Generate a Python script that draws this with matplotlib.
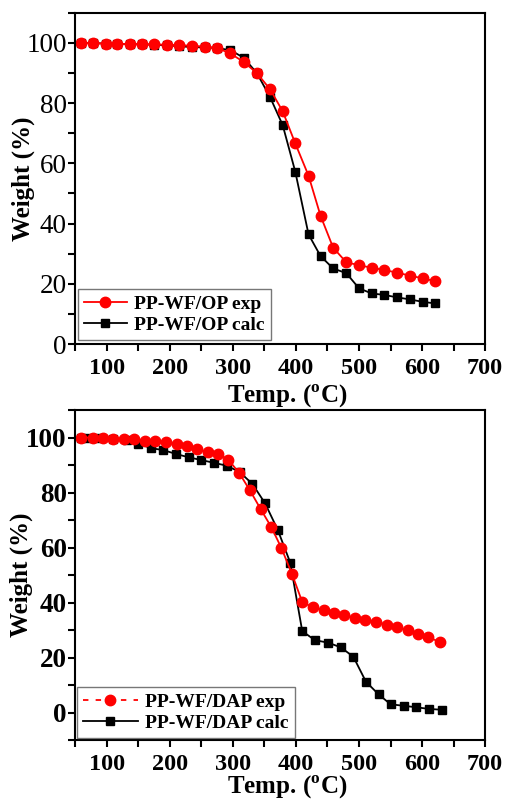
import numpy as np
import matplotlib
matplotlib.use("Agg")
import matplotlib.pyplot as plt
from matplotlib.lines import Line2D
from matplotlib.ticker import MultipleLocator

plt.rcParams['font.family'] = ['Liberation Serif', 'DejaVu Serif']
plt.rcParams['mathtext.fontset'] = 'custom'
plt.rcParams['mathtext.rm'] = 'Liberation Serif'
plt.rcParams['mathtext.bf'] = 'Liberation Serif:bold'

# PP-WF/OP
op_exp_T = [59, 79, 99, 117, 137, 156, 175, 195, 215, 236, 256, 275, 296, 317, 338, 359, 379, 399,
            420, 439, 459, 480, 500, 520, 540, 560, 581, 601, 620]
op_exp_W = [100, 99.9, 99.8, 99.7, 99.6, 99.6, 99.5, 99.4, 99.3, 99.0, 98.8, 98.3, 96.5, 93.7, 90.0,
            84.6, 77.3, 66.6, 55.9, 42.6, 32.0, 27.1, 26.2, 25.3, 24.6, 23.7, 22.7, 21.8, 20.9]
op_calc_T = [59, 79, 99, 117, 137, 156, 175, 195, 215, 236, 256, 275, 296, 317, 338, 359, 379, 399,
             420, 439, 459, 480, 500, 520, 540, 560, 581, 601, 620]
op_calc_W = [100, 99.9, 99.8, 99.7, 99.6, 99.5, 99.4, 99.2, 98.9, 98.6, 98.5, 98.3, 97.6, 95.1, 90.0,
             82.0, 72.7, 57.2, 36.4, 29.2, 25.1, 23.5, 18.5, 16.8, 16.3, 15.5, 14.8, 14.0, 13.5]

# PP-WF/DAP
dap_exp_T = [59, 79, 94, 110, 128, 144, 160, 177, 194, 211, 227, 243, 260, 277, 293, 310, 327, 344,
             361, 377, 394, 410, 427, 444, 460, 477, 494, 510, 527, 544, 561, 577, 594, 610, 628]
dap_exp_W = [100, 100, 99.8, 99.6, 99.5, 99.3, 98.9, 98.7, 98.3, 97.6, 96.9, 95.7, 94.8, 94.0, 91.9,
             87.1, 80.8, 74.0, 67.4, 59.8, 50.2, 40.2, 38.2, 37.2, 36.2, 35.4, 34.5, 33.8, 33.0, 32.0,
             31.0, 30.0, 28.7, 27.3, 25.7]
dap_calc_T = [60, 70, 90, 110, 132, 150, 171, 190, 210, 230, 250, 270, 291, 311, 331, 351, 371, 391,
              410, 430, 451, 471, 491, 511, 531, 550, 572, 591, 611, 631]
dap_calc_W = [100, 100, 99.8, 99.5, 99.0, 97.8, 96.1, 95.4, 94.0, 92.8, 91.8, 90.8, 89.7, 87.4, 83.1,
              76.1, 66.5, 54.5, 29.6, 26.3, 25.4, 23.7, 20.3, 11.2, 6.6, 3.0, 2.4, 1.9, 1.3, 1.0]

fig = plt.figure(figsize=(5.08, 8), dpi=100)
ax1 = fig.add_axes([0.148, 0.570, 0.807, 0.414])
ax2 = fig.add_axes([0.148, 0.075, 0.807, 0.4125])


def style(ax, ylim, ybold):
    ax.set_xlim(50, 700)
    ax.set_ylim(*ylim)
    ax.set_yticks([0, 20, 40, 60, 80, 100])
    ax.set_xticks([100, 200, 300, 400, 500, 600, 700])
    ax.xaxis.set_minor_locator(MultipleLocator(50))
    ax.yaxis.set_minor_locator(MultipleLocator(10))
    ax.tick_params(which='both', direction='out', width=1.5, length=5, top=False, right=False)
    ax.tick_params(axis='x', labelsize=17.5, pad=5)
    ax.tick_params(axis='y', labelsize=19.5, pad=1)
    for lab in ax.get_xticklabels():
        lab.set_fontweight('bold')
    for lab in ax.get_yticklabels():
        lab.set_fontweight('bold' if ybold else 'normal')
    for s in ax.spines.values():
        s.set_linewidth(1.5)
    ax.set_ylabel("Weight (%)", fontsize=18, fontweight='bold')


# top panel
ax1.plot(op_calc_T, op_calc_W, color='black', marker='s', markersize=6, linewidth=1.3)
ax1.plot(op_exp_T, op_exp_W, color='red', marker='o', markersize=7.5, linewidth=1.3)
style(ax1, (0, 110), False)
ax1.yaxis.set_label_coords(-0.098, 0.5)
ax1.set_xlabel(r"Temp. ($^{\mathbf{o}}$C)", fontsize=18, fontweight='bold')
ax1.xaxis.set_label_coords(0.517, -0.118)
h1 = [Line2D([], [], color='red', marker='o', markersize=7.5, linewidth=1.3),
      Line2D([], [], color='black', marker='s', markersize=6, linewidth=1.3)]
leg1 = ax1.legend(h1, ["PP-WF/OP exp", "PP-WF/OP calc"], loc='lower left', bbox_to_anchor=(0.007, 0.012),
                  borderaxespad=0, fancybox=False, edgecolor='#555555', prop={'size': 14, 'weight': 'bold'},
                  handlelength=2.2, labelspacing=0.2, handletextpad=0.4, borderpad=0.3)
leg1.get_frame().set_linewidth(1)

# bottom panel
ax2.plot(dap_calc_T, dap_calc_W, color='black', marker='s', markersize=6, linewidth=1.3)
ax2.plot(dap_exp_T, dap_exp_W, color='red', marker='o', markersize=7.5, linewidth=1.3)
style(ax2, (-10, 110), True)
ax2.yaxis.set_label_coords(-0.102, 0.5)
ax2.set_xlabel(r"Temp. ($^{\mathbf{o}}$C)", fontsize=18, fontweight='bold')
ax2.xaxis.set_label_coords(0.517, -0.103)
h2 = [Line2D([], [], color='red', marker='o', markersize=7.5, linewidth=1.3, linestyle='--', dashes=(3, 4)),
      Line2D([], [], color='black', marker='s', markersize=6, linewidth=1.3)]
leg2 = ax2.legend(h2, ["PP-WF/DAP exp", "PP-WF/DAP calc"], loc='lower left', bbox_to_anchor=(0.005, 0.006),
                  borderaxespad=0, fancybox=False, edgecolor='#555555', prop={'size': 14, 'weight': 'bold'},
                  handlelength=2.8, labelspacing=0.2, handletextpad=0.4, borderpad=0.3)
leg2.get_frame().set_linewidth(1)

plt.savefig("out.png", dpi=100)
